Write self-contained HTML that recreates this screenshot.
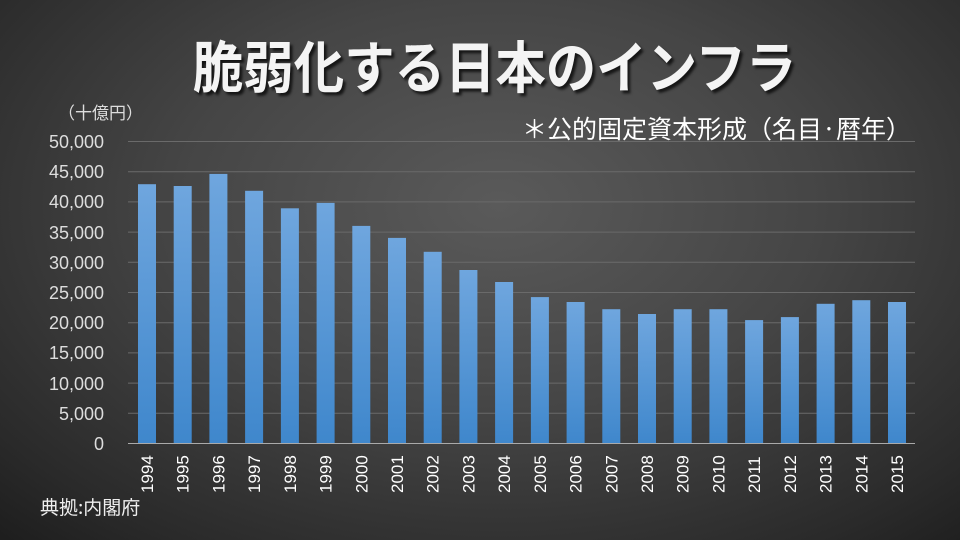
<!DOCTYPE html>
<html><head><meta charset="utf-8"><style>
html,body{margin:0;padding:0}
body{width:960px;height:540px;overflow:hidden;position:relative;
background:radial-gradient(ellipse 75% 85% at 52% 38%,#5a5a5a 0%,#454545 45%,#2a2a2a 85%,#1e1e1e 100%);
font-family:"Liberation Sans","Noto Sans CJK JP",sans-serif;color:#fff}
.t{position:absolute}
</style></head><body>
<div class="t" style="left:193px;top:30px;width:603px;height:70px;overflow:visible">
<div style="font-family:'Noto Sans CJK JP',sans-serif;font-weight:700;font-size:56px;line-height:70px;white-space:nowrap;transform:scaleX(0.9);transform-origin:left top;color:#f4f4f4;text-shadow:3px 3px 3px rgba(0,0,0,.7)">脆弱化する日本のインフラ</div></div>
<div class="t" style="left:58px;top:100px;font-size:17px;color:#ddd;font-family:'Noto Sans CJK JP',sans-serif;line-height:24px">（十億円）</div>
<div class="t" style="left:522px;top:110px;font-size:25px;line-height:36px;white-space:nowrap;font-family:'Noto Sans CJK JP',sans-serif">＊公的固定資本形成（名目·暦年）</div>
<div class="t" style="left:40px;top:494px;font-size:19px;line-height:26px;color:#eee;font-family:'Noto Sans CJK JP',sans-serif">典拠:内閣府</div>
<svg class="t" style="left:0;top:0" width="960" height="540">
<defs><linearGradient id="g" x1="0" y1="0" x2="0" y2="1"><stop offset="0" stop-color="#6fa6de"/><stop offset="1" stop-color="#3f87cc"/></linearGradient></defs>
<g stroke="#6a6a6a" stroke-width="1">
<line x1="128" x2="915" y1="141.5" y2="141.5"/><line x1="128" x2="915" y1="171.7" y2="171.7"/><line x1="128" x2="915" y1="201.9" y2="201.9"/><line x1="128" x2="915" y1="232.1" y2="232.1"/><line x1="128" x2="915" y1="262.3" y2="262.3"/><line x1="128" x2="915" y1="292.5" y2="292.5"/><line x1="128" x2="915" y1="322.7" y2="322.7"/><line x1="128" x2="915" y1="352.9" y2="352.9"/><line x1="128" x2="915" y1="383.1" y2="383.1"/><line x1="128" x2="915" y1="413.3" y2="413.3"/>
</g>
<g font-family="Liberation Sans,sans-serif" font-size="18" fill="#ddd" text-anchor="end">
<text x="104" y="148">50,000</text><text x="104" y="178">45,000</text><text x="104" y="208">40,000</text><text x="104" y="239">35,000</text><text x="104" y="269">30,000</text><text x="104" y="299">25,000</text><text x="104" y="329">20,000</text><text x="104" y="359">15,000</text><text x="104" y="390">10,000</text><text x="104" y="420">5,000</text><text x="104" y="450">0</text>
</g>
<g id="bars" fill="url(#g)"></g>
<line x1="128" x2="915" y1="443.5" y2="443.5" stroke="#aaa" stroke-width="1"/>
<g id="lbl" font-family="Liberation Sans,sans-serif" font-size="17" fill="#fff"></g>
</svg>
<script>
var v=[42.9,42.6,44.6,41.8,38.9,39.8,36.0,34.0,31.7,28.7,26.7,24.2,23.4,22.2,21.4,22.2,22.2,20.4,20.9,23.1,23.7,23.4];
var b=document.getElementById('bars'),l=document.getElementById('lbl'),s='',t='';
for(var i=0;i<22;i++){var x=138+i*35.714,h=v[i]*6.04;
s+='<rect x="'+x.toFixed(1)+'" y="'+(443.3-h).toFixed(1)+'" width="18" height="'+h.toFixed(1)+'"/>';
var cx=x+9+6;t+='<text transform="translate('+cx.toFixed(1)+',493) rotate(-90)">'+(1994+i)+'</text>';}
b.innerHTML=s;l.innerHTML=t;
</script>
</body></html>
